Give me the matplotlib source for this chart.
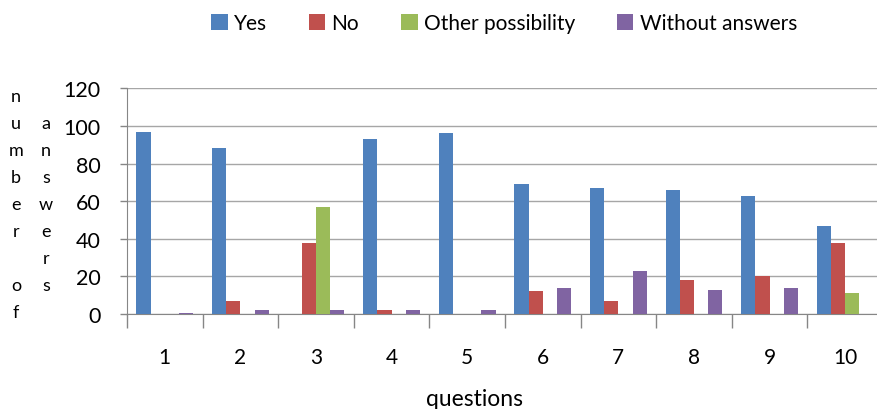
import numpy as np
import matplotlib
matplotlib.use("Agg")
import matplotlib.pyplot as plt

plt.rcParams['font.family'] = ['Lato', 'DejaVu Sans']

# Data
questions = ["1", "2", "3", "4", "5", "6", "7", "8", "9", "10"]
series_names = ["Yes", "No", "Other possibility", "Without answers"]
yes = [97, 88, 0, 93, 96, 69, 67, 66, 63, 47]
no = [0, 7, 38, 2, 0, 12, 7, 18, 20, 38]
other = [0, 0, 57, 0, 0, 0, 0, 0, 0, 11]
without = [0.5, 2, 2, 2, 2, 14, 23, 13, 14, 0]
colors = ["#4F81BD", "#C0504D", "#9BBB59", "#8064A2"]
y_ticks = [0, 20, 40, 60, 80, 100, 120]

W, H = 878, 410
fig = plt.figure(figsize=(W / 100, H / 100), dpi=100)
ax = fig.add_axes([127 / W, (H - 315) / H, 756 / W, (315 - 89.3) / H])

x = np.arange(len(questions))
bw = 0.1875
for i, (vals, c, name) in enumerate(zip([yes, no, other, without], colors, series_names)):
    ax.bar(x + (i - 1.5) * bw, vals, width=bw, color=c, label=name, zorder=3)

ax.set_xlim(-0.5, len(questions) - 0.5)
ax.set_ylim(0, 120)
ax.set_yticks(y_ticks)
ax.set_yticklabels([str(v) for v in y_ticks], fontsize=15.5)
ax.set_xticks(x)
ax.set_xticklabels(questions, fontsize=15)
ax.tick_params(axis='x', which='major', length=0, pad=24)
ax.set_xticks(np.arange(len(questions) + 1) - 0.5, minor=True)
ax.tick_params(axis='x', which='minor', length=10, color="#868686", width=1)
ax.tick_params(axis='y', length=5, color="#868686", width=1, pad=14)

ax.grid(axis='y', color="#A6A6A6", linewidth=1, zorder=0)
for s in ["top", "right"]:
    ax.spines[s].set_visible(False)
ax.spines["left"].set_color("#868686")
ax.spines["bottom"].set_color("#868686")
ax.axhline(120, color="#868686", linewidth=1.2, zorder=1)

# Y axis title, one letter per line in two columns
col1 = list("number") + ["", "o", "f"]
col2 = list("answers")
y0, dy = 97, 27.0
for k, ch in enumerate(col1):
    if ch:
        fig.text(16 / W, 1 - (y0 + k * dy) / H, ch, ha='center', va='center', fontsize=13)
for k, ch in enumerate(col2):
    fig.text(46 / W, 1 - (y0 + (k + 1) * dy) / H, ch, ha='center', va='center', fontsize=13)

fig.text(475 / W, 1 - 400 / H, "questions", ha='center', va='center', fontsize=16.5)

fig.legend(loc='center', bbox_to_anchor=(504 / W, 1 - 24 / H), ncol=4, frameon=False,
           fontsize=15, handlelength=0.8, handleheight=0.8, handletextpad=0.3,
           columnspacing=2.0)

fig.savefig("out.png", dpi=100)
